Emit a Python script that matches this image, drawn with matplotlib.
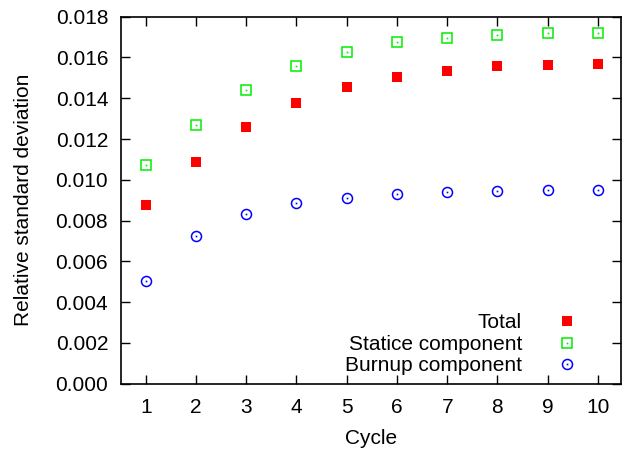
import matplotlib
matplotlib.use("Agg")
import matplotlib.pyplot as plt
from matplotlib.legend_handler import HandlerTuple

plt.rcParams['font.family'] = ['Liberation Sans', 'DejaVu Sans']

cycles = [1, 2, 3, 4, 5, 6, 7, 8, 9, 10]
total = [0.00878, 0.01087, 0.01260, 0.01378, 0.01457, 0.01506, 0.01536, 0.01556, 0.01564, 0.01570]
statice = [0.01071, 0.01267, 0.01440, 0.01556, 0.01629, 0.01674, 0.01698, 0.01711, 0.01718, 0.01720]
burnup = [0.00503, 0.00723, 0.00832, 0.00884, 0.00912, 0.00930, 0.00938, 0.00943, 0.00948, 0.00950]
yticks = [0.000, 0.002, 0.004, 0.006, 0.008, 0.010, 0.012, 0.014, 0.016, 0.018]
labels = ["Total", "Statice component", "Burnup component"]

fig = plt.figure(figsize=(6.23, 4.49), dpi=100)
ax = fig.add_axes([0.1937, 0.1454, 0.9968 - 0.1937, 0.9628 - 0.1454])

ms = 7.2
fs = 15
h1, = ax.plot(cycles, total, ls='none', marker='s', ms=ms, mfc='#ff0000', mec='#ff0000', mew=0)
h2, = ax.plot(cycles, statice, ls='none', marker='s', ms=ms, mfc='none', mec='#00ee00', mew=1.1)
d2, = ax.plot(cycles, statice, ls='none', marker='s', ms=1.2, mfc='#00ee00', mec='none')
h3, = ax.plot(cycles, burnup, ls='none', marker='o', ms=ms, mfc='none', mec='#0000ff', mew=1.1)
d3, = ax.plot(cycles, burnup, ls='none', marker='s', ms=1.2, mfc='#0000ff', mec='none')

ax.set_xlim(0.5, 10.46)
ax.set_ylim(0, 0.018)
ax.set_xticks(cycles)
ax.set_yticks(yticks)
ax.set_yticklabels([f"{v:.3f}" for v in yticks])
ax.tick_params(direction='in', length=6.5, width=1, top=True, right=True, labelsize=fs)
ax.tick_params(axis='y', pad=9)
ax.tick_params(axis='x', pad=10)
for s in ax.spines.values():
    s.set_linewidth(1.2)

ax.set_xlabel("Cycle", fontsize=fs, labelpad=9)
ax.set_ylabel("Relative standard deviation", fontsize=fs, labelpad=16)

leg = ax.legend([h1, (h2, d2), (h3, d3)], labels, loc='lower right', markerfirst=False,
                frameon=False, fontsize=fs, handlelength=1.0, handletextpad=1.67,
                labelspacing=0.12, borderaxespad=0.0, bbox_to_anchor=(0.93, 0.0),
                handler_map={tuple: HandlerTuple(ndivide=1, pad=0)})

fig.savefig("out.png", dpi=100)
